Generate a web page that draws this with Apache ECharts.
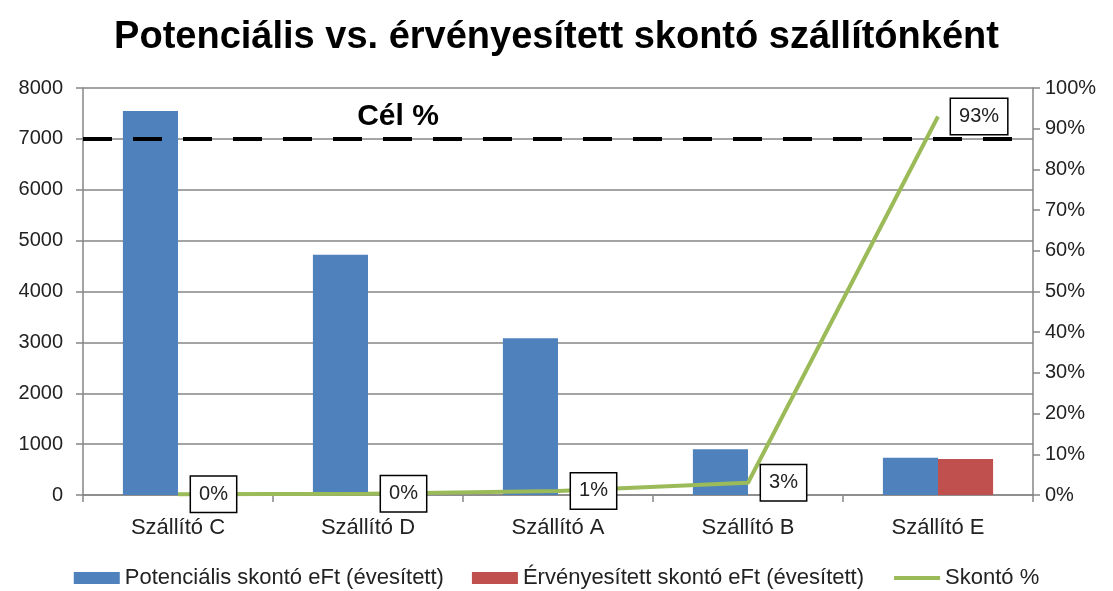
<!DOCTYPE html>
<html><head><meta charset="utf-8">
<script src="https://cdn.jsdelivr.net/npm/echarts@6/dist/echarts.min.js"></script>
<style>html,body{margin:0;padding:0;background:#fff}#c{width:1113px;height:591px}</style>
</head><body><div id="c"></div>
<script>
const categories = ['Szállító C', 'Szállító D', 'Szállító A', 'Szállító B', 'Szállító E'];
const potencialis = [7550, 4720, 3080, 900, 730];
const ervenyesitett = [0, 0, 0, 0, 710];
const skontoPct = [0.002, 0.003, 0.01, 0.03, 0.93];
const targetValue = 7000;
const leftTicks = { min: 0, max: 8000, interval: 1000 };
const rightTicks = { min: 0, max: 1, interval: 0.1 };

const FONT = 'Liberation Sans';
const chart = echarts.init(document.getElementById('c'), null, { renderer: 'canvas' });
chart.setOption({
  backgroundColor: '#fff',
  animation: false,
  textStyle: { fontFamily: FONT },
  title: {
    text: 'Potenciális vs. érvényesített skontó szállítónként',
    left: 'center', top: 14,
    textStyle: { fontFamily: FONT, fontSize: 38, fontWeight: 'bold', color: '#000' }
  },
  grid: { left: 83, right: 80, top: 88, bottom: 96, containLabel: false },
  legend: {
    bottom: -3, left: 'center', itemGap: 28, itemWidth: 46, itemHeight: 12,
    textStyle: { fontFamily: FONT, fontSize: 22, color: '#222' },
    data: [
      { name: 'Potenciális skontó eFt (évesített)', icon: 'rect' },
      { name: 'Érvényesített skontó eFt (évesített)', icon: 'rect' },
      { name: 'Skontó %', itemStyle: { opacity: 0 }, lineStyle: { width: 4, color: '#9BBB59' } }
    ]
  },
  xAxis: {
    type: 'category', data: categories,
    axisLine: { lineStyle: { color: '#868686', width: 1.5 } },
    axisTick: { show: true, length: 7, lineStyle: { color: '#868686', width: 1.5 } },
    axisLabel: { fontSize: 22, color: '#222', margin: 22 }
  },
  yAxis: [
    {
      type: 'value', min: leftTicks.min, max: leftTicks.max, interval: leftTicks.interval,
      axisLine: { show: true, lineStyle: { color: '#868686', width: 1.5 } },
      axisTick: { show: true, length: 7, lineStyle: { color: '#868686', width: 1.5 } },
      splitLine: { lineStyle: { color: '#868686', width: 1.5 } },
      axisLabel: { fontSize: 20, color: '#222', margin: 20, formatter: v => String(v) }
    },
    {
      type: 'value', min: rightTicks.min, max: rightTicks.max, interval: rightTicks.interval,
      position: 'right',
      axisLine: { show: true, lineStyle: { color: '#868686', width: 1.5 } },
      axisTick: { show: true, length: 7, lineStyle: { color: '#868686', width: 1.5 } },
      splitLine: { show: false },
      axisLabel: { fontSize: 20, color: '#222', margin: 12, formatter: v => Math.round(v * 100) + '%' }
    }
  ],
  series: [
    {
      name: 'Potenciális skontó eFt (évesített)', type: 'bar', data: potencialis,
      barGap: '0%', barCategoryGap: '42%',
      itemStyle: { color: '#4F81BD' },
      markLine: {
        silent: true, symbol: ['none', 'none'],
        lineStyle: { color: '#000', type: [29, 21], width: 4 },
        label: {
          show: true, formatter: 'Cél %', position: 'insideMiddleTop',
          fontSize: 30, fontWeight: 'bold', color: '#000', fontFamily: FONT,
          offset: [-160, -2]
        },
        data: [{ yAxis: targetValue }]
      }
    },
    {
      name: 'Érvényesített skontó eFt (évesített)', type: 'bar', data: ervenyesitett,
      itemStyle: { color: '#C0504D' }
    },
    {
      name: 'Skontó %', type: 'line', yAxisIndex: 1, data: skontoPct,
      symbol: 'circle', symbolSize: 0.1, showSymbol: true,
      lineStyle: { color: '#9BBB59', width: 4 },
      itemStyle: { color: '#9BBB59' },
      z: 5,
      label: {
        show: true, position: 'right', distance: 13,
        formatter: p => Math.round(p.value * 100) + '%',
        fontSize: 20, color: '#222', backgroundColor: '#fff',
        borderColor: '#000', borderWidth: 1.5, padding: [8, 8, 7, 8]
      }
    }
  ]
});
</script></body></html>
